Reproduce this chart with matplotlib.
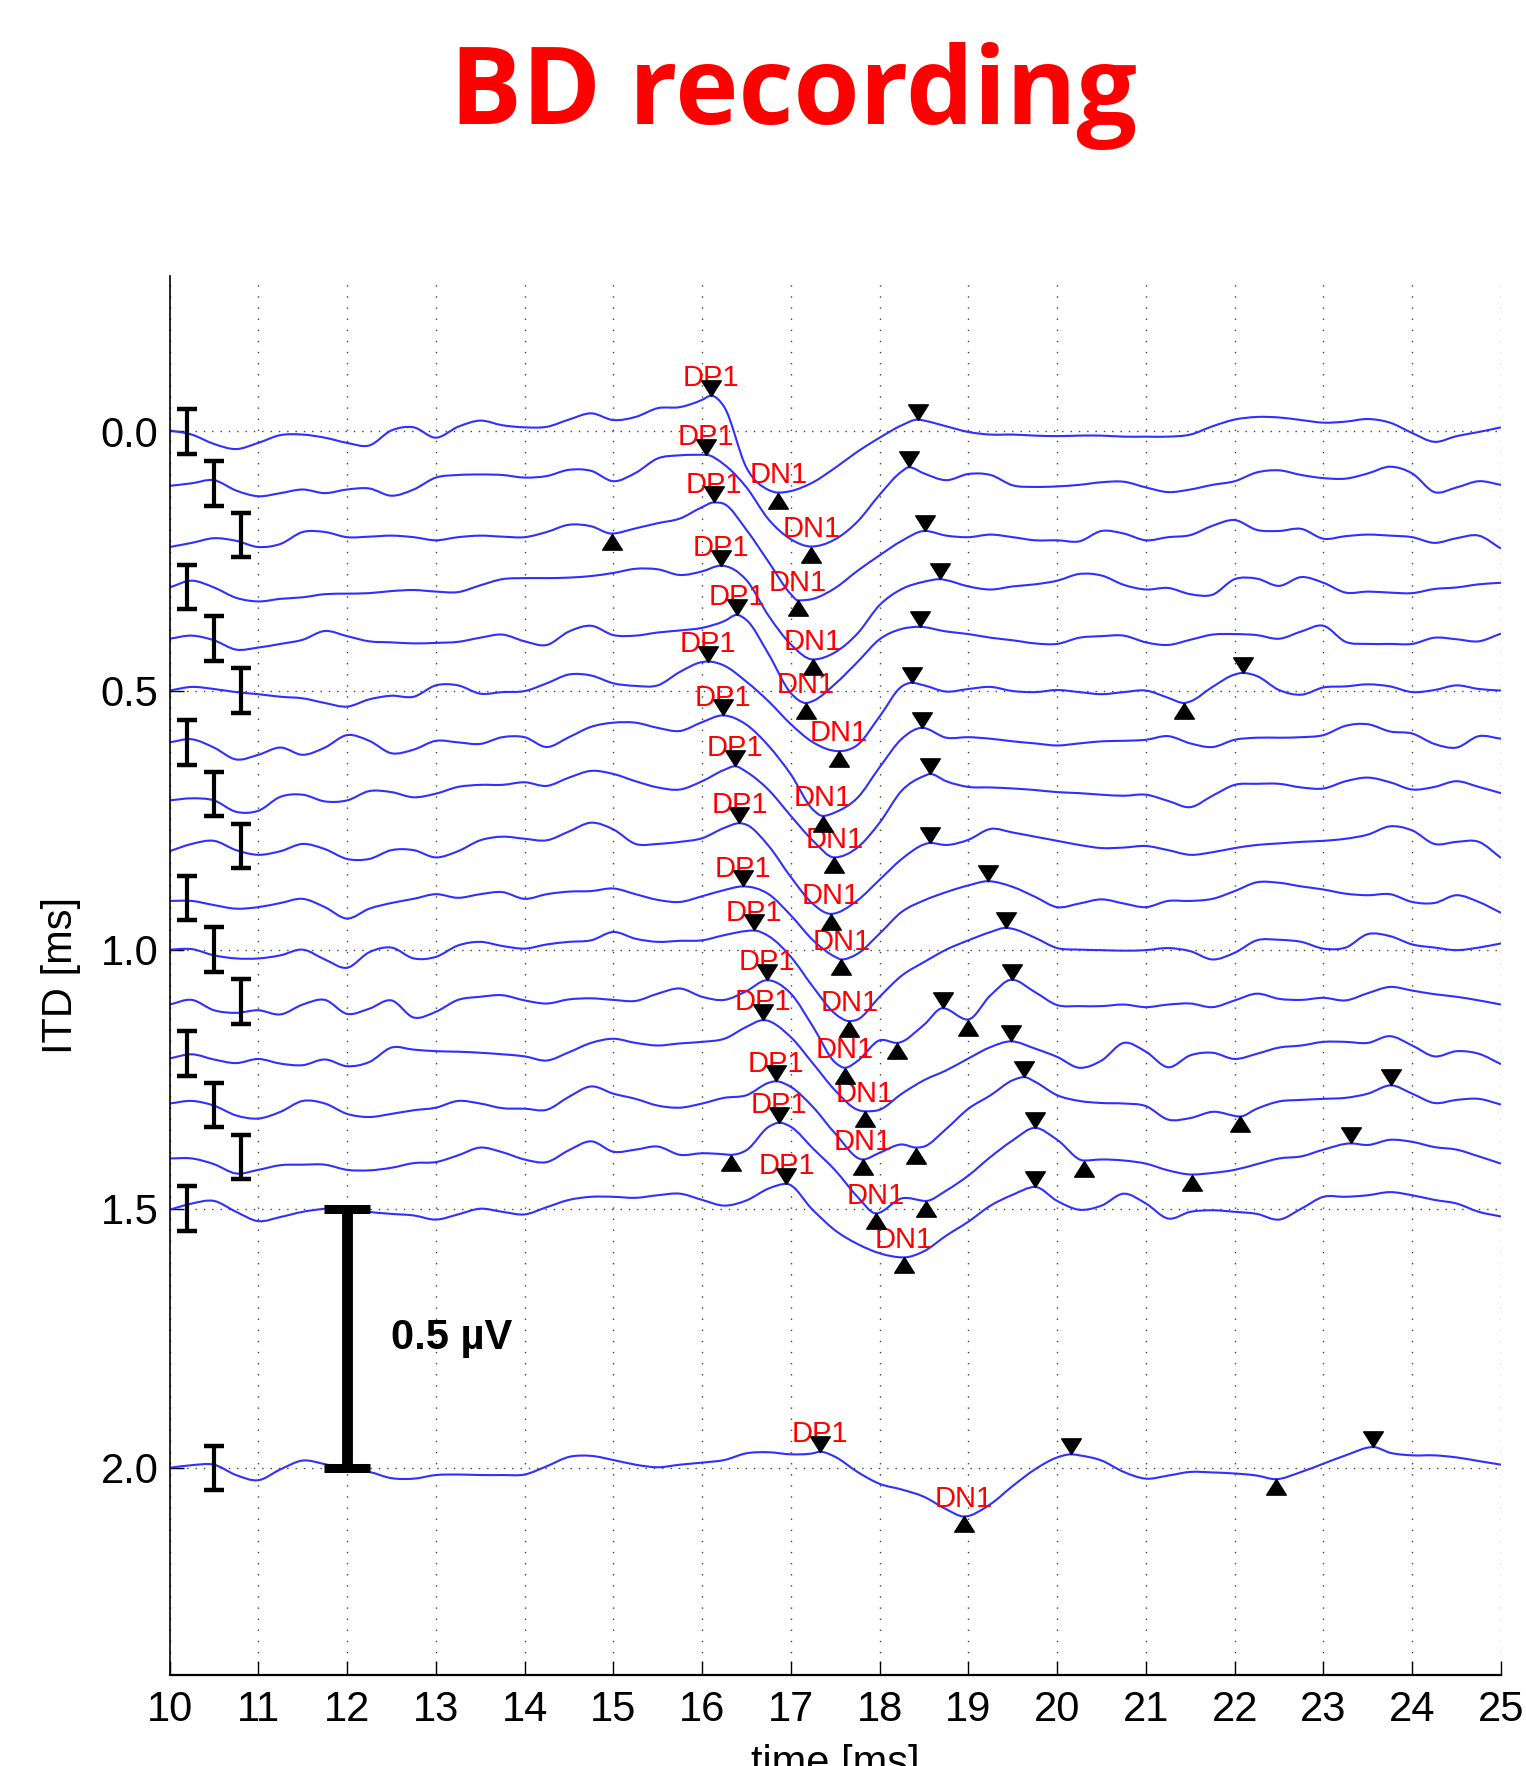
#!/usr/bin/env python3
"""Stacked BD-recording traces (one per ITD) with DP1/DN1 peak picks."""
import numpy as np
import matplotlib
matplotlib.use("Agg")
import matplotlib.pyplot as plt
from matplotlib.path import Path
from matplotlib.patches import PathPatch

SAMPLE_T = np.linspace(10.0, 25.0, 61)
ITD_MS = [0.0, 0.1, 0.2, 0.3, 0.4, 0.5, 0.6, 0.7, 0.8, 0.9,
          1.0, 1.1, 1.2, 1.3, 1.4, 1.5, 2.0]

AMP_00 = [0.002, -0.006, -0.024, -0.034, -0.022, -0.007, -0.006, -0.012, -0.022, -0.027,
          0.002, 0.008, -0.012, 0.009, 0.021, 0.012, 0.008, 0.009, 0.023, 0.035,
          0.022, 0.028, 0.045, 0.047, 0.061, 0.047, -0.070, -0.113, -0.115, -0.098,
          -0.070, -0.039, -0.012, 0.012, 0.021, 0.010, -0.001, -0.006, -0.006, -0.008,
          -0.009, -0.008, -0.008, -0.010, -0.010, -0.010, -0.006, 0.010, 0.023, 0.028,
          0.027, 0.022, 0.017, 0.019, 0.024, 0.017, -0.003, -0.020, -0.009, -0.001,
          0.008]
AMP_01 = [-0.005, 0.000, 0.006, -0.014, -0.025, -0.019, -0.012, -0.019, -0.012, -0.010,
          -0.024, -0.012, 0.011, 0.016, 0.017, 0.016, 0.011, 0.014, 0.026, 0.024,
          0.004, 0.020, 0.048, 0.054, 0.054, 0.036, -0.008, -0.070, -0.108, -0.122,
          -0.108, -0.074, -0.022, 0.023, 0.019, 0.006, 0.018, 0.016, -0.004, -0.007,
          -0.006, -0.003, 0.002, 0.003, -0.008, -0.017, -0.012, -0.003, 0.004, 0.021,
          0.025, 0.016, 0.010, 0.009, 0.019, 0.032, 0.019, -0.017, -0.008, 0.004,
          -0.003]
AMP_02 = [-0.023, -0.015, -0.006, -0.011, -0.023, -0.017, 0.006, 0.006, -0.004, -0.003,
          -0.001, -0.004, -0.010, -0.004, -0.001, -0.003, -0.004, 0.006, 0.020, 0.017,
          0.004, 0.013, 0.023, 0.032, 0.054, 0.060, 0.010, -0.052, -0.114, -0.123,
          -0.102, -0.069, -0.039, -0.011, 0.008, -0.001, -0.004, 0.001, -0.004, -0.010,
          -0.010, -0.012, 0.008, 0.003, -0.010, -0.004, 0.000, 0.018, 0.029, 0.010,
          0.008, 0.012, -0.007, -0.002, 0.001, -0.001, -0.004, -0.015, -0.006, -0.001,
          -0.026]
AMP_03 = [-0.001, 0.012, -0.001, -0.021, -0.028, -0.023, -0.020, -0.014, -0.013, -0.012,
          -0.008, -0.006, -0.009, -0.010, 0.003, 0.015, 0.017, 0.017, 0.018, 0.021,
          0.027, 0.035, 0.034, 0.023, 0.030, 0.039, 0.013, -0.056, -0.111, -0.140,
          -0.126, -0.090, -0.035, -0.004, 0.010, 0.013, 0.001, -0.005, 0.001, 0.005,
          0.012, 0.025, 0.022, 0.004, -0.005, -0.002, -0.014, -0.015, 0.015, 0.016,
          0.002, 0.019, 0.008, -0.011, -0.009, -0.011, -0.012, -0.004, -0.001, 0.005,
          0.008]
AMP_04 = [0.000, 0.006, -0.003, -0.021, -0.017, -0.010, -0.002, 0.015, 0.005, -0.005,
          -0.007, -0.009, -0.008, -0.006, 0.002, 0.008, -0.005, -0.012, 0.014, 0.025,
          0.007, 0.006, 0.012, 0.016, 0.021, 0.034, 0.036, -0.030, -0.105, -0.120,
          -0.087, -0.045, -0.001, 0.019, 0.021, 0.014, 0.009, 0.002, -0.003, -0.009,
          -0.010, 0.002, 0.005, 0.006, -0.007, -0.012, -0.002, 0.008, 0.009, 0.007,
          0.000, 0.014, 0.025, -0.006, -0.010, -0.010, -0.010, 0.002, -0.001, -0.005,
          0.010]
AMP_05 = [0.000, 0.007, 0.003, -0.003, -0.007, -0.012, -0.015, -0.024, -0.031, -0.017,
          -0.010, -0.012, 0.010, 0.010, -0.006, -0.003, -0.001, 0.014, 0.031, 0.029,
          0.014, 0.009, 0.010, 0.036, 0.055, 0.048, 0.017, -0.021, -0.065, -0.100,
          -0.117, -0.105, -0.050, 0.008, 0.010, -0.002, 0.003, 0.007, -0.001, -0.003,
          0.001, -0.003, -0.007, -0.003, 0.000, -0.014, -0.021, 0.007, 0.031, 0.028,
          0.001, -0.008, 0.006, 0.008, 0.012, 0.008, -0.003, 0.001, 0.010, 0.003,
          0.000]
AMP_06 = [0.000, 0.006, -0.010, -0.033, -0.024, -0.010, -0.024, -0.010, 0.014, 0.003,
          -0.021, -0.014, 0.003, 0.000, -0.003, 0.010, 0.010, -0.009, 0.010, 0.030,
          0.038, 0.038, 0.028, 0.022, 0.039, 0.050, 0.034, -0.007, -0.062, -0.130,
          -0.135, -0.107, -0.048, 0.007, 0.026, 0.009, 0.010, 0.007, 0.002, -0.002,
          -0.006, -0.002, 0.002, 0.003, 0.005, 0.012, -0.002, -0.009, 0.005, 0.009,
          0.009, 0.010, 0.014, 0.032, 0.035, 0.021, 0.017, -0.003, -0.010, 0.012,
          0.007]
AMP_07 = [-0.012, -0.008, -0.012, -0.034, -0.032, -0.005, -0.001, -0.014, -0.012, 0.006,
          0.004, -0.006, 0.001, 0.014, 0.018, 0.018, 0.023, 0.016, 0.032, 0.045,
          0.039, 0.025, 0.013, 0.009, 0.025, 0.047, 0.043, 0.008, -0.042, -0.090,
          -0.122, -0.103, -0.055, 0.007, 0.035, 0.025, 0.014, 0.013, 0.011, 0.008,
          0.004, 0.002, -0.001, -0.003, -0.001, -0.013, -0.025, -0.003, 0.018, 0.020,
          0.020, 0.013, 0.011, 0.025, 0.032, 0.023, 0.009, 0.014, 0.025, 0.014,
          0.002]
AMP_08 = [-0.010, 0.004, 0.010, -0.008, -0.017, -0.010, 0.004, -0.006, -0.025, -0.025,
          -0.008, -0.008, -0.022, -0.010, 0.011, 0.018, 0.014, 0.011, 0.028, 0.045,
          0.032, 0.004, 0.004, 0.008, 0.015, 0.035, 0.041, 0.000, -0.060, -0.112,
          -0.130, -0.105, -0.065, -0.025, 0.003, 0.002, 0.012, 0.033, 0.026, 0.018,
          0.010, 0.002, -0.004, -0.003, 0.000, -0.008, -0.017, -0.012, -0.004, 0.002,
          0.005, 0.008, 0.010, 0.014, 0.022, 0.038, 0.030, 0.004, 0.008, 0.008,
          -0.023]
AMP_09 = [-0.006, -0.006, -0.014, -0.021, -0.018, -0.010, -0.002, -0.018, -0.040, -0.021,
          -0.010, -0.002, 0.007, 0.000, 0.007, 0.011, -0.002, 0.007, 0.012, 0.013,
          0.018, 0.007, -0.004, -0.008, 0.003, 0.015, 0.021, 0.007, -0.034, -0.082,
          -0.114, -0.108, -0.069, -0.027, -0.005, 0.011, 0.024, 0.030, 0.021, 0.002,
          -0.018, -0.011, -0.003, -0.011, -0.018, -0.006, -0.006, -0.002, 0.013, 0.030,
          0.029, 0.022, 0.016, 0.008, 0.005, 0.007, -0.008, -0.010, 0.005, -0.008,
          -0.029]
AMP_10 = [0.000, 0.001, -0.011, -0.017, -0.017, -0.011, 0.000, -0.019, -0.035, -0.005,
          0.004, -0.017, -0.014, 0.008, 0.015, 0.007, 0.002, 0.010, 0.015, 0.018,
          0.034, 0.021, 0.015, 0.017, 0.018, 0.028, 0.036, 0.026, -0.014, -0.072,
          -0.124, -0.135, -0.091, -0.050, -0.024, 0.000, 0.018, 0.034, 0.040, 0.023,
          0.003, 0.000, -0.001, -0.002, -0.001, 0.003, -0.003, -0.019, -0.006, 0.018,
          0.019, 0.015, 0.002, 0.004, 0.030, 0.026, 0.010, 0.004, -0.001, 0.004,
          0.012]
AMP_11 = [-0.006, 0.003, -0.017, -0.022, -0.017, -0.025, -0.006, 0.003, -0.024, -0.014,
          0.002, -0.031, -0.020, 0.003, 0.009, 0.012, 0.002, -0.004, 0.004, 0.006,
          0.003, 0.001, 0.015, 0.025, 0.009, 0.003, 0.020, 0.041, 0.015, -0.049,
          -0.118, -0.115, -0.075, -0.080, -0.045, -0.014, -0.035, 0.012, 0.042, 0.018,
          -0.007, -0.009, -0.009, -0.006, -0.011, -0.006, -0.004, -0.011, 0.002, 0.015,
          0.005, 0.003, 0.007, 0.002, 0.016, 0.028, 0.021, 0.014, 0.009, 0.002,
          -0.006]
AMP_12 = [-0.010, -0.002, -0.012, -0.019, -0.011, -0.020, -0.023, -0.012, -0.025, -0.017,
          0.011, 0.007, 0.004, 0.003, 0.001, -0.002, -0.006, -0.014, 0.002, 0.020,
          0.028, 0.020, 0.015, 0.019, 0.022, 0.028, 0.051, 0.062, 0.031, -0.020,
          -0.072, -0.109, -0.109, -0.078, -0.052, -0.033, -0.010, 0.012, 0.023, 0.009,
          -0.007, -0.028, -0.014, 0.020, 0.003, -0.027, -0.004, 0.001, -0.011, -0.001,
          0.011, 0.015, 0.022, 0.022, 0.020, 0.033, 0.015, -0.006, 0.004, -0.001,
          -0.021]
AMP_13 = [0.003, 0.008, -0.001, -0.020, -0.026, -0.013, 0.008, 0.003, -0.017, -0.023,
          -0.017, -0.010, -0.005, 0.008, 0.003, -0.006, -0.007, -0.009, 0.016, 0.036,
          0.022, 0.012, -0.001, -0.005, 0.003, 0.014, 0.019, 0.043, 0.035, -0.004,
          -0.055, -0.099, -0.092, -0.076, -0.080, -0.046, -0.007, 0.019, 0.048, 0.045,
          0.019, 0.008, 0.004, 0.003, -0.002, -0.028, -0.025, -0.013, -0.020, -0.007,
          0.007, 0.010, 0.012, 0.014, 0.022, 0.037, 0.022, 0.004, 0.010, 0.012,
          0.001]
AMP_14 = [-0.003, -0.003, -0.014, -0.032, -0.025, -0.016, -0.015, -0.015, -0.025, -0.026,
          -0.021, -0.012, -0.010, 0.003, 0.018, 0.009, -0.005, -0.010, 0.013, 0.030,
          0.010, 0.014, 0.020, 0.004, 0.007, 0.005, 0.013, 0.058, 0.058, 0.016,
          -0.026, -0.077, -0.108, -0.080, -0.085, -0.065, -0.036, 0.000, 0.032, 0.056,
          0.033, -0.001, -0.005, -0.007, -0.013, -0.026, -0.034, -0.031, -0.025, -0.014,
          -0.003, 0.001, 0.014, 0.024, 0.023, 0.033, 0.029, 0.019, 0.014, 0.001,
          -0.013]
AMP_15 = [-0.002, 0.010, 0.015, -0.006, -0.024, -0.016, -0.006, 0.000, 0.003, -0.006,
          -0.010, -0.013, -0.021, -0.011, 0.000, -0.006, -0.011, 0.003, 0.017, 0.023,
          0.023, 0.021, 0.026, 0.029, 0.017, 0.006, 0.016, 0.039, 0.047, -0.003,
          -0.042, -0.068, -0.086, -0.094, -0.082, -0.052, -0.025, 0.006, 0.027, 0.042,
          0.015, -0.002, 0.006, 0.029, 0.010, -0.019, -0.006, -0.003, -0.006, -0.010,
          -0.021, 0.000, 0.023, 0.023, 0.026, 0.032, 0.026, 0.017, 0.010, -0.006,
          -0.015]
AMP_20 = [0.000, 0.005, 0.006, -0.014, -0.024, -0.003, 0.014, 0.007, -0.003, -0.008,
          -0.020, -0.021, -0.014, -0.013, -0.014, -0.014, -0.013, 0.003, 0.021, 0.023,
          0.015, 0.006, 0.001, 0.006, 0.010, 0.015, 0.028, 0.030, 0.026, 0.028,
          0.021, -0.008, -0.031, -0.042, -0.056, -0.080, -0.094, -0.070, -0.035, -0.003,
          0.020, 0.024, 0.014, -0.008, -0.021, -0.015, -0.008, -0.009, -0.011, -0.015,
          -0.022, -0.008, 0.008, 0.024, 0.039, 0.029, 0.024, 0.024, 0.020, 0.013,
          0.006]

# labelled picks, one per trace (same order as ITD_MS)
DP1_T = [16.10, 16.04, 16.13, 16.21, 16.39, 16.07, 16.23, 16.37, 16.42,
         16.46, 16.58, 16.73, 16.69, 16.83, 16.87, 16.95, 17.33]
DP1_A = [0.069, 0.055, 0.063, 0.041, 0.046, 0.056, 0.052, 0.054, 0.044,
         0.022, 0.037, 0.041, 0.064, 0.046, 0.066, 0.048, 0.031]
DN1_T = [16.86, 17.23, 17.08, 17.25, 17.17, 17.54, 17.36, 17.49, 17.45,
         17.57, 17.66, 17.61, 17.83, 17.81, 17.96, 18.27, 18.95]
DN1_A = [-0.118, -0.122, -0.126, -0.140, -0.124, -0.117, -0.142, -0.122, -0.131,
         -0.119, -0.138, -0.128, -0.112, -0.105, -0.109, -0.094, -0.094]

# unlabelled picks: trace index, time, amplitude
PEAK_ROW = [0, 1, 2, 3, 4, 5, 5, 6, 7, 8, 9, 10, 11, 11, 12, 13, 13, 14, 14, 15, 16, 16]
PEAK_T = [18.43, 18.33, 18.51, 18.68, 18.45, 18.36, 22.09, 18.48, 18.57, 18.57, 19.22,
          19.42, 18.71, 19.49, 19.48, 19.63, 23.76, 19.75, 23.31, 19.75, 20.16, 23.56]
PEAK_A = [0.023, 0.031, 0.008, 0.015, 0.023, 0.015, 0.034, 0.028, 0.039, 0.006, 0.032,
          0.042, -0.013, 0.042, 0.023, 0.054, 0.038, 0.056, 0.026, 0.042, 0.026, 0.040]
TROUGH_ROW = [2, 5, 11, 11, 13, 13, 14, 14, 14, 14, 16]
TROUGH_T = [14.98, 21.43, 18.19, 18.99, 18.41, 22.06, 16.32, 18.52, 20.30, 21.52, 22.46]
TROUGH_A = [0.003, -0.024, -0.080, -0.035, -0.082, -0.022, 0.004, -0.085, -0.007,
            -0.034, -0.022]

# per-trace error bars (half height, uV)
EBAR_HALF = [0.043, 0.043, 0.042, 0.043, 0.043, 0.044, 0.044, 0.043, 0.042,
             0.043, 0.043, 0.043, 0.043, 0.043, 0.043, 0.043, 0.042]
EBAR_T = [10.2, 10.5, 10.8, 10.2, 10.5, 10.8, 10.2, 10.5, 10.8,
          10.2, 10.5, 10.8, 10.2, 10.5, 10.8, 10.2, 10.5]

TRACE_BLUE = "#2f2fff"
FONT = ["Liberation Sans", "DejaVu Sans"]

# triangle markers with the apex on the picked point
DOWN_TRI = Path([(0, 0), (-0.63, 1.0), (0.63, 1.0), (0, 0)],
                [Path.MOVETO, Path.LINETO, Path.LINETO, Path.CLOSEPOLY])
UP_TRI = Path([(0, 0), (-0.63, -1.0), (0.63, -1.0), (0, 0)],
              [Path.MOVETO, Path.LINETO, Path.LINETO, Path.CLOSEPOLY])


def smooth_path(x, y, flat):
    """Cubic Hermite curve through the points, drawn as Bezier segments.

    Tangents are three-point finite differences; points flagged in `flat`
    (the picked extrema) get a zero slope so the curve turns exactly there.
    """
    x = np.asarray(x, float)
    y = np.asarray(y, float)
    h = np.diff(x)
    delta = np.diff(y) / h
    d = np.zeros_like(y)
    d[0], d[-1] = delta[0], delta[-1]
    for k in range(1, len(x) - 1):
        if flat[k]:
            continue
        d[k] = (h[k - 1] * delta[k] + h[k] * delta[k - 1]) / (h[k - 1] + h[k])
    verts = [(x[0], y[0])]
    codes = [Path.MOVETO]
    for k in range(len(x) - 1):
        verts += [(x[k] + h[k] / 3, y[k] + d[k] * h[k] / 3),
                  (x[k + 1] - h[k] / 3, y[k + 1] - d[k + 1] * h[k] / 3),
                  (x[k + 1], y[k + 1])]
        codes += [Path.CURVE4] * 3
    return Path(verts, codes)


def main():
    plt.rcParams["font.family"] = FONT
    traces = [AMP_00, AMP_01, AMP_02, AMP_03, AMP_04, AMP_05, AMP_06, AMP_07, AMP_08,
              AMP_09, AMP_10, AMP_11, AMP_12, AMP_13, AMP_14, AMP_15, AMP_20]

    fig = plt.figure(figsize=(15.26, 17.66), dpi=100)
    ax = fig.add_axes([0.1111, 0.0515, 0.8725, 0.7922])

    for row, (itd, amp) in enumerate(zip(ITD_MS, traces)):
        picks = [(DP1_T[row], DP1_A[row]), (DN1_T[row], DN1_A[row])]
        picks += [(t, a) for r, t, a in zip(PEAK_ROW, PEAK_T, PEAK_A) if r == row]
        picks += [(t, a) for r, t, a in zip(TROUGH_ROW, TROUGH_T, TROUGH_A) if r == row]
        pick_t = np.array([p[0] for p in picks])
        pts = [(t, a, False) for t, a in zip(SAMPLE_T, amp)
               if np.min(np.abs(pick_t - t)) > 0.06]
        pts += [(t, a, True) for t, a in picks]
        pts.sort()
        xs = [p[0] for p in pts]
        ys = [itd - p[1] for p in pts]
        flat = [p[2] for p in pts]
        ax.add_patch(PathPatch(smooth_path(xs, ys, flat), facecolor="none",
                               edgecolor=TRACE_BLUE, lw=1.5, zorder=2))

    # picks
    dp_y = [itd - a for itd, a in zip(ITD_MS, DP1_A)]
    dn_y = [itd - a for itd, a in zip(ITD_MS, DN1_A)]
    pk_y = [ITD_MS[r] - a for r, a in zip(PEAK_ROW, PEAK_A)]
    tr_y = [ITD_MS[r] - a for r, a in zip(TROUGH_ROW, TROUGH_A)]
    mk = dict(ls="none", color="black", ms=22.5, zorder=5)
    ax.plot(DP1_T, dp_y, marker=DOWN_TRI, **mk)
    ax.plot(PEAK_T, pk_y, marker=DOWN_TRI, **mk)
    ax.plot(DN1_T, dn_y, marker=UP_TRI, **mk)
    ax.plot(TROUGH_T, tr_y, marker=UP_TRI, **mk)
    for lbl, ts, ys in (("DP1", DP1_T, dp_y), ("DN1", DN1_T, dn_y)):
        for t, y in zip(ts, ys):
            ax.annotate(lbl, (t, y), xytext=(0, 7), textcoords="offset points",
                        ha="center", va="baseline", color="red", fontsize=21,
                        zorder=4)

    # error bars and the 0.5 uV scale bar
    ax.errorbar(EBAR_T, ITD_MS, yerr=EBAR_HALF, fmt="none", ecolor="black",
                elinewidth=3.0, capsize=7.0, capthick=3.2, zorder=4)
    ax.errorbar([12.0], [1.75], yerr=[0.25], fmt="none", ecolor="black",
                elinewidth=7.8, capsize=16.5, capthick=6.5, zorder=4)
    ax.text(12.5, 1.75, "0.5 µV", fontsize=30, fontweight="bold",
            ha="left", va="center")

    ax.set_xlim(10, 25)
    ax.set_ylim(2.4, -0.3)
    ax.set_xticks(range(10, 26))
    ax.set_yticks([0.0, 0.5, 1.0, 1.5, 2.0])
    ax.set_yticklabels([f"{v:.1f}" for v in [0.0, 0.5, 1.0, 1.5, 2.0]])
    ax.xaxis.grid(True, ls=(0, (1, 7)), color="0.25", lw=1.0)
    ax.yaxis.grid(True, ls=(0, (1, 5)), color="0.25", lw=1.0)
    ax.set_axisbelow(True)
    for side in ("top", "right"):
        ax.spines[side].set_visible(False)
    ax.spines["left"].set_linewidth(1.2)
    ax.spines["bottom"].set_linewidth(1.6)
    ax.tick_params(direction="in", length=10, width=1.0, labelsize=30)
    ax.tick_params(axis="x", pad=11)
    ax.tick_params(axis="y", pad=8)
    ax.set_xlabel("time [ms]", fontsize=30, labelpad=10)
    ax.set_ylabel("ITD [ms]", fontsize=30, labelpad=14)

    fig.text(0.5203, 0.9298, "BD recording", ha="center", va="baseline",
             fontsize=77, fontweight="bold", color="red", family="Open Sans")

    fig.savefig("out.png", dpi=100)
    plt.close(fig)


if __name__ == "__main__":
    main()
